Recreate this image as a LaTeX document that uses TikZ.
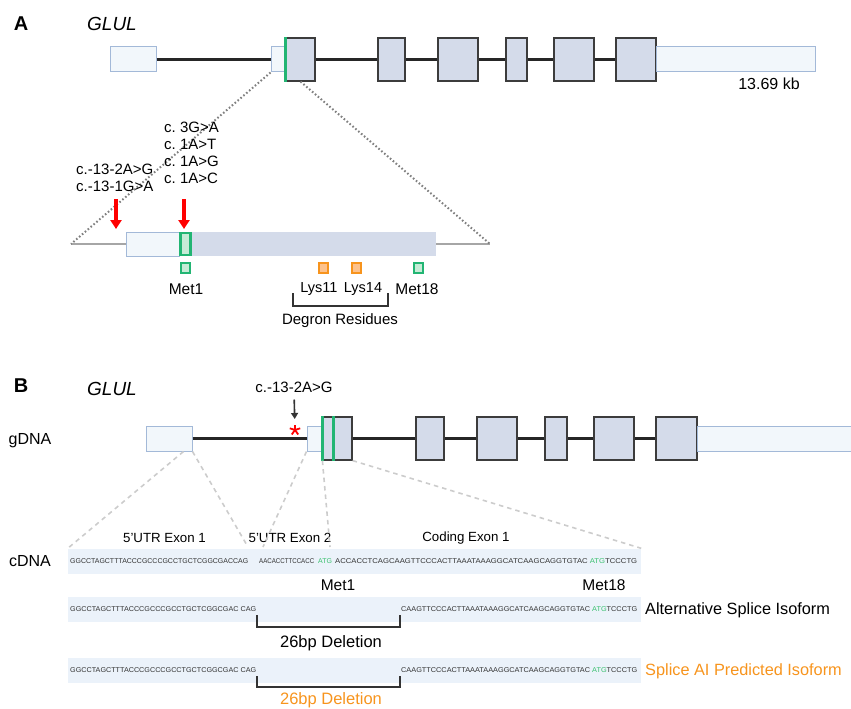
\documentclass[tikz,border=0pt]{standalone}
\usepackage{fontspec}
\usepackage{graphicx}
\setmainfont{Liberation Sans}
\usetikzlibrary{arrows.meta}
\definecolor{utrfill}{HTML}{F2F7FB}
\definecolor{utrline}{HTML}{A3B9D8}
\definecolor{cdsfill}{HTML}{D4DBEA}
\definecolor{cdsline}{HTML}{3C3C3C}
\definecolor{metgreen}{HTML}{22B573}
\definecolor{metfill}{HTML}{C6EBD6}
\definecolor{lysorange}{HTML}{F7941D}
\definecolor{lysfill}{HTML}{FDC28C}
\definecolor{bandfill}{HTML}{EBF2FA}
\definecolor{atggreen}{HTML}{39C06E}
\definecolor{zoomgray}{HTML}{A6A6A6}
\tikzset{
    utr/.style={draw=utrline,fill=utrfill,line width=1pt,inner sep=0pt,minimum height=25pt},
    cds/.style={draw=cdsline,fill=cdsfill,line width=1.2pt,inner sep=0pt,minimum height=43pt},
    intron/.style={line width=2.2pt,black!85},
    band/.style={fill=bandfill,inner sep=0pt,minimum height=25pt},
    seq/.style={font=\fontsize{7}{8}\selectfont,text=black!80,inner sep=0pt,anchor=west},
    lbl/.style={font=\fontsize{15}{17}\selectfont,inner sep=0pt},
    metbox/.style={draw=metgreen,fill=metfill,line width=1.8pt,inner sep=0pt,minimum size=9.5pt},
    lysbox/.style={draw=lysorange,fill=lysfill,line width=1.8pt,inner sep=0pt,minimum size=9.5pt},
    redarrow/.style={-{Triangle[length=9pt,width=11pt]},red,line width=3.5pt},
    blkarrow/.style={-{Triangle[length=6pt,width=7pt]},black!80,line width=1.6pt},
    dotline/.style={black!50,line width=2pt,dash pattern=on 1.6pt off 2.2pt},
    dashline/.style={black!20,line width=1.6pt,dash pattern=on 4.5pt off 4pt},
    bracket/.style={black!80,line width=2pt}
}

\begin{document}
\frenchspacing
\begin{tikzpicture}[x=1pt,y=-1pt]
    \useasboundingbox (0,0) rectangle (851,709);

    % panel A: gene model
    \node[font=\fontsize{20}{22}\selectfont\bfseries,inner sep=0pt] (pa) at (21,23.5) {A};
    \node[font=\fontsize{19}{21}\selectfont\itshape,inner sep=0pt] (ga) at (112,23.5) {GLUL};

    \node[utr,minimum width=46] (a1) at (133,59.5) {};
    \node[utr,minimum width=15] (a2) at (278.5,59.5) {};
    \node[cds,minimum width=29] (c1) at (300.5,59.5) {};
    \node[cds,minimum width=27] (c2) at (391.5,59.5) {};
    \node[cds,minimum width=40] (c3) at (458,59.5) {};
    \node[cds,minimum width=21] (c4) at (516.5,59.5) {};
    \node[cds,minimum width=40] (c5) at (574,59.5) {};
    \node[cds,minimum width=40] (c6) at (636,59.5) {};
    \node[utr,minimum width=159] (a3) at (735.5,59.5) {};
    \foreach \p/\q in {a1/a2,c1/c2,c2/c3,c3/c4,c4/c5,c5/c6} {\draw[intron] (\p.east)--(\q.west);}
    \draw[metgreen,line width=2.2pt] (c1.north west)--(c1.south west);
    \node[font=\fontsize{16}{18}\selectfont,inner sep=0pt] (kb) at (769,84) {13.69 kb};

    % panel A: zoom on exon 2
    \coordinate (zl) at (71,244);
    \coordinate (zr) at (490,244);
    \node[fill=cdsfill,inner sep=0pt,minimum height=24pt,minimum width=257] (zc) at (307.5,244) {};
    \node[utr,minimum height=24pt,minimum width=53] (zu) at (152.5,244) {};
    \node[draw=metgreen,fill=metfill,line width=2.2pt,inner sep=0pt,minimum height=22pt,minimum width=10] (zm) at (185.5,244) {};
    \draw[zoomgray,line width=2pt] (zl)--(zu.west);
    \draw[zoomgray,line width=2pt] (zc.east)--(zr);
    \draw[dotline] (a2.south west)--(zl);
    \draw[dotline] (c1.south)--(zr);

    \node[lbl,align=left,anchor=west] (mA1) at (76,177.5) {c.-13-2A>G\\c.-13-1G>A};
    \node[lbl,align=left,anchor=west] (mA2) at (164,152.5) {c. 3G>A\\c. 1A>T\\c. 1A>G\\c. 1A>C};
    \coordinate (r1s) at (116,199);
    \coordinate (r1e) at (116,229);
    \coordinate (r2s) at (184,199);
    \coordinate (r2e) at (184,229);
    \draw[redarrow] (r1s)--(r1e);
    \draw[redarrow] (r2s)--(r2e);

    \node[metbox] (sq1) at (185.5,268) {};
    \node[lysbox] (sq11) at (323.5,268) {};
    \node[lysbox] (sq14) at (356.5,268) {};
    \node[metbox] (sq18) at (418.5,268) {};
    \node[lbl,font=\fontsize{15.5}{17}\selectfont] (met1) at (186,289) {Met1};
    \node[lbl,font=\fontsize{14.5}{17}\selectfont] (lys11) at (319,289) {Lys11};
    \node[lbl,font=\fontsize{14.5}{17}\selectfont] (lys14) at (363,289) {Lys14};
    \node[lbl,font=\fontsize{15.5}{17}\selectfont] (met18) at (417,289) {Met18};
    \coordinate (dl) at (293,293);
    \coordinate (dr) at (388,293);
    \draw[bracket] (dl)--++(0,13)-|(dr);
    \node[lbl] (degron) at (340,321) {Degron Residues};

    % panel B: gene model
    \node[font=\fontsize{20}{22}\selectfont\bfseries,inner sep=0pt] (pb) at (21,385.5) {B};
    \node[font=\fontsize{19}{21}\selectfont\itshape,inner sep=0pt] (gb) at (112,389) {GLUL};
    \node[lbl,font=\fontsize{16}{18}\selectfont] (gdna) at (30,441) {gDNA};

    \node[utr,minimum width=46] (b1) at (169,438.5) {};
    \node[utr,minimum width=15] (b2) at (314.5,438.5) {};
    \node[cds,minimum width=29] (d1) at (337.5,438.5) {};
    \node[cds,minimum width=28] (d2) at (430,438.5) {};
    \node[cds,minimum width=40] (d3) at (497,438.5) {};
    \node[cds,minimum width=22] (d4) at (556,438.5) {};
    \node[cds,minimum width=40] (d5) at (614,438.5) {};
    \node[cds,minimum width=41] (d6) at (676.5,438.5) {};
    \node[utr,minimum width=173] (b3) at (783.5,438.5) {};
    \foreach \p/\q in {b1/b2,d1/d2,d2/d3,d3/d4,d4/d5,d5/d6} {\draw[intron] (\p.east)--(\q.west);}
    \draw[metgreen,line width=2.2pt] (d1.north west)--(d1.south west);
    \draw[metgreen,line width=2.2pt] ([xshift=11pt]d1.north west)--([xshift=11pt]d1.south west);

    \node[lbl] (mB) at (294,387) {c.-13-2A>G};
    \coordinate (ast) at (295,430);
    \foreach \a in {270,198,126,54,342} {\draw[red,line width=1.8pt] (ast)--++(\a:5.5);}
    \draw[blkarrow,shorten <=7pt,shorten >=11pt] (mB.south)--(ast);

    % panel B: cDNA rows
    \node[lbl,font=\fontsize{16}{18}\selectfont] (cdna) at (30,561) {cDNA};
    \node[band,minimum width=573] (band1) at (354.5,561) {};
    \node[band,minimum width=573] (band2) at (354.5,609.5) {};
    \node[band,minimum width=573] (band3) at (354.5,670.5) {};

    \node[lbl,font=\fontsize{13.3}{15}\selectfont] (ex1) at (164.5,538) {5'UTR Exon 1};
    \node[lbl,font=\fontsize{13.3}{15}\selectfont] (ex2) at (290,538) {5'UTR Exon 2};
    \node[lbl,font=\fontsize{13.3}{15}\selectfont] (ex3) at (466,538) {Coding Exon 1};

    \coordinate (e2) at (248,547);
    \coordinate (e3) at (263,547);
    \coordinate (e4) at (330,547);
    \draw[dashline] ([xshift=-9pt]b1.south east)--(band1.north west);
    \draw[dashline] (b1.south east)--(e2);
    \draw[dashline] (b2.south west)--(e3);
    \draw[dashline] (d1.south west)--(e4);
    \draw[dashline] (d1.south east)--(band1.north east);

    \node[seq] (s1a) at (70,561) {\resizebox{178pt}{\height}{GGCCTAGCTTTACCCGCCCGCCTGCTCGGCGACCAG}};
    \node[seq] (s1b) at (259,561) {\resizebox{55pt}{\height}{AACACCTTCCACC}};
    \node[seq,text=atggreen] (s1c) at (318,561) {ATG};
    \node[seq] (s1d) at (335,561) {\resizebox{302pt}{\height}{ACCACCTCAGCAAGTTCCCACTTAAATAAAGGCATCAAGCAGGTGTAC \textcolor{atggreen}{ATG}TCCCTG}};
    \node[lbl,font=\fontsize{15.5}{17}\selectfont] (m1) at (338,585) {Met1};
    \node[lbl,font=\fontsize{15.5}{17}\selectfont] (m18) at (604,585) {Met18};

    \node[seq] (s2a) at (70,609.5) {\resizebox{186pt}{\height}{GGCCTAGCTTTACCCGCCCGCCTGCTCGGCGAC CAG}};
    \node[seq] (s2b) at (401,609.5) {\resizebox{236pt}{\height}{CAAGTTCCCACTTAAATAAAGGCATCAAGCAGGTGTAC \textcolor{atggreen}{ATG}TCCCTG}};
    \node[lbl,font=\fontsize{16.3}{18}\selectfont,anchor=west] (alt) at (645,610) {Alternative Splice Isoform};
    \coordinate (k2l) at (257,615);
    \coordinate (k2r) at (400,615);
    \draw[bracket] (k2l)--++(0,12)-|(k2r);
    \node[lbl,font=\fontsize{16.5}{18}\selectfont] (del2) at (331,643) {26bp Deletion};

    \node[seq] (s3a) at (70,670.5) {\resizebox{186pt}{\height}{GGCCTAGCTTTACCCGCCCGCCTGCTCGGCGAC CAG}};
    \node[seq] (s3b) at (401,670.5) {\resizebox{236pt}{\height}{CAAGTTCCCACTTAAATAAAGGCATCAAGCAGGTGTAC \textcolor{atggreen}{ATG}TCCCTG}};
    \node[lbl,font=\fontsize{16.3}{18}\selectfont,anchor=west,text=lysorange] (pred) at (645,671) {Splice AI Predicted Isoform};
    \coordinate (k3l) at (257,676);
    \coordinate (k3r) at (400,676);
    \draw[bracket] (k3l)--++(0,11)-|(k3r);
    \node[lbl,font=\fontsize{16.5}{18}\selectfont,text=lysorange] (del3) at (331,700) {26bp Deletion};
\end{tikzpicture}
\end{document}
